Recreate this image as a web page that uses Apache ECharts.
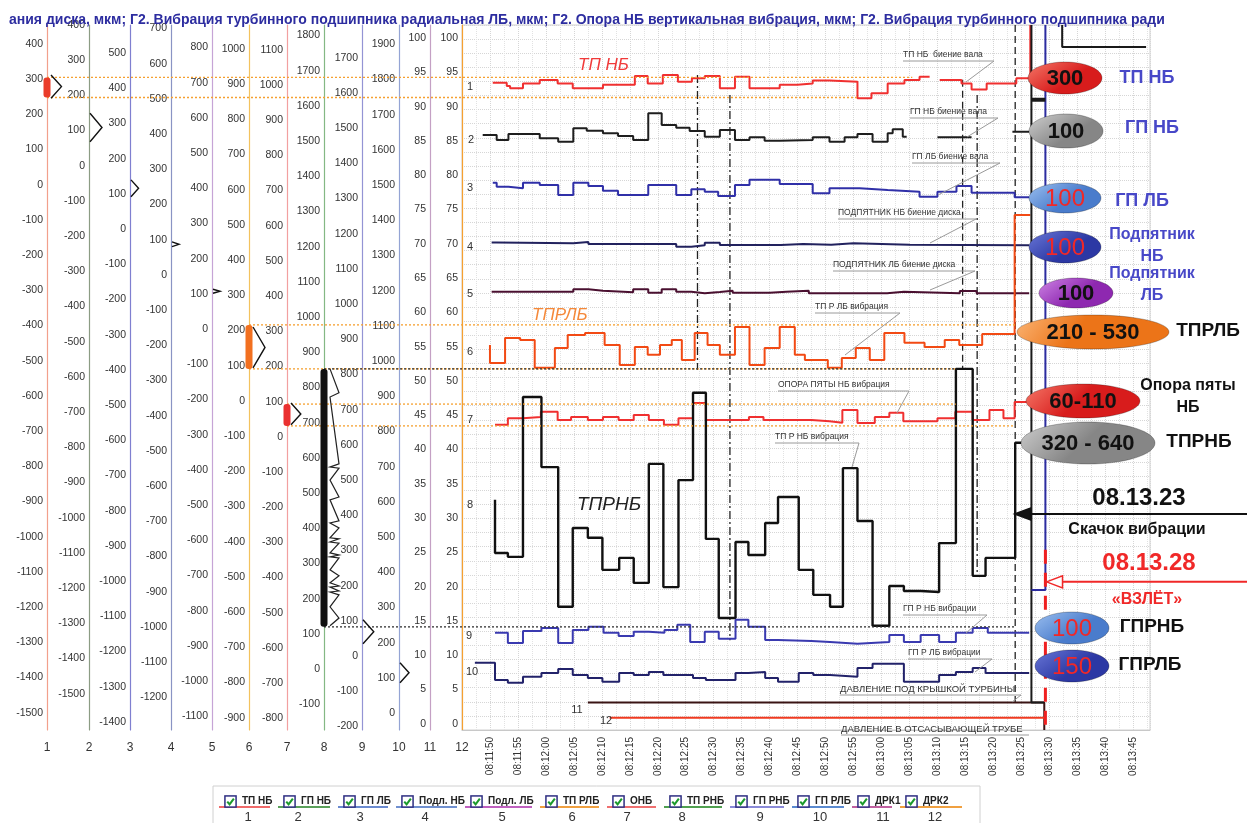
<!DOCTYPE html>
<html><head><meta charset="utf-8">
<script src="https://cdn.jsdelivr.net/npm/echarts@6/dist/echarts.min.js"></script>
<style>html,body{margin:0;padding:0;background:#fff}#c{width:1247px;height:823px}</style>
</head><body><div id="c"></div>
<script>
// ================= DATA =================
const TITLE = 'ания диска, мкм; Г2. Вибрация турбинного подшипника радиальная ЛБ, мкм; Г2. Опора НБ вертикальная вибрация, мкм; Г2. Вибрация турбинного подшипника ради';
const START_TIME = [8, 11, 50]; // time of x = 0 s
const seriesNames = ['ТП НБ','ГП НБ','ГП ЛБ','Подл. НБ','Подл. ЛБ','ТП РЛБ','ОНБ','ТП РНБ','ГП РНБ','ГП РЛБ','ДРК1','ДРК2'];
const axisNames = ['1','2','3','4','5','6','7','8','9','10','11','12'];
// axis scale ranges (value at top / bottom of plot)
const axisMax = [454, 400, 580, 710, 864, 1068, 1170, 1830, 1793, 1955, 101.9, 101.9];
const axisMin = [-1549, -1603, -1423, -1293, -1139, -935, -833, -173, -210, -48, -0.9, -0.9];
// tick label ranges
const tickTop = [400, 400, 500, 700, 800, 1000, 1100, 1800, 1700, 1900, 100, 100];
const tickBottom = [-1500, -1500, -1400, -1200, -1100, -900, -800, -100, -200, 0, 0, 0];
const tickStep = [100, 100, 100, 100, 100, 100, 100, 100, 100, 100, 5, 5];

// traces: [seconds after 08:11:50, value]; null = end of a drawn run
const trace1 = [[0.5,290],[3.0,281],[3.6,274],[5.9,288],[8.9,298],[12.1,288],[14.8,274],[20.2,284],[25.9,309],[28.2,288],[30.9,312],[33.6,293],[36.1,303],[38.4,309],[41.1,274],[43.8,307],[46.4,274],[51.8,284],[55.0,288],[57.7,296],[60.7,293],[65.7,246],[68.2,260],[71.1,288],[74.1,298],[76.8,307],[78.6,null],[80.4,298],[84.3,288],[86.1,271],[88.8,288],[94.1,303],[96.6,454],[96.7,null]];
const trace2 = [[-1.3,87.5],[1.2,73.3],[3.3,90.3],[8.9,78.1],[12.2,68.5],[14.9,106.5],[17.3,99.7],[20.2,92.3],[22.9,84.7],[25.6,73.3],[28.3,149.1],[30.7,115.9],[33.3,108.2],[35.7,98.9],[38.4,82.7],[41.1,101.7],[43.8,73.3],[46.4,80.9],[49.1,71.3],[51.8,73.3],[57.7,80.9],[60.7,68.5],[63.4,80.9],[65.7,90.3],[68.4,68.5],[71.1,92.3],[72.0,103.7],[73.8,82.7],[74.5,null],[80.0,80.9],[86.1,null],[93.4,96.9],[96.4,null]];
const trace3 = [[0.5,132],[1.2,120.6],[3.3,116.1],[5.9,132],[8.9,125.5],[12.2,97],[14.9,132],[17.6,122.6],[20.2,109.3],[22.9,97],[28.3,125.5],[33.3,97],[36.0,113.2],[38.4,106.4],[40.8,94.2],[43.8,125.5],[46.4,140],[51.8,128.4],[57.7,101.9],[60.7,116.1],[66.1,111.3],[71.1,106.4],[76.8,92.2],[80.0,106.4],[83.4,122.6],[86.1,103.6],[93.8,90.5],[96.4,null]];
const trace4 = [[0.3,92],[1.2,89.8],[14.9,93.6],[17.6,87.8],[33.3,80.2],[36.0,84.1],[38.4,91.5],[41.1,85],[52,88],[56,86],[61,90],[65,86],[75,85],[85,84],[96.4,null]];
const trace5 = [[0.3,106.3],[14.9,113.1],[17.6,109.2],[20.2,104.6],[25.6,113.1],[28.3,103.5],[30.7,113.1],[33.3,106.3],[36.0,101.8],[38.4,105.5],[41.1,109.2],[43.4,103.5],[50,106.3],[53,109],[57,102],[71,106],[74,102],[84,108],[87,102],[96.4,null]];
const trace6 = [[0,159],[0,108],[2.7,179],[5.4,173],[8.0,94],[11.6,150],[13.9,187],[17.0,193],[20.5,159],[23.2,102],[25.9,153],[28.2,131],[30.4,159],[32.5,173],[34.3,116],[36.6,193],[38.9,159],[41.1,131],[43.8,210],[46.4,102],[49.1,150],[51.8,210],[54.5,131],[56.3,116],[60.4,94],[62.9,122],[65.4,150],[67.9,116],[70.5,193],[74.1,165],[77.7,153],[81.3,173],[83.9,159],[88.0,190],[93.8,528],[96.6,null]];
const trace7 = [[0.9,34],[3.2,53],[5.9,56],[9.1,71],[12.1,48],[14.5,56],[17.5,48],[20.2,56],[23.0,48],[25.7,62],[28.4,48],[31.1,34],[33.7,53],[36.3,96],[38.6,48],[46.3,56],[48.9,48],[57.5,44],[60.7,40],[63.0,76],[65.7,39],[68.8,56],[71.4,68],[73.9,44],[80.0,53],[83.2,71],[86.3,48],[89.3,76],[91.8,53],[93.8,99],[96.6,null]];
const trace8 = [[0.9,481],[0.9,330],[3.2,319],[5.9,773],[9.2,574],[12.2,177],[14.8,401],[17.5,373],[20.1,282],[23.1,316],[25.7,245],[28.4,583],[31.0,233],[33.7,537],[36.3,785],[38.6,370],[40.9,145],[43.9,361],[46.2,324],[49.2,415],[51.5,489],[55.2,282],[57.8,211],[60.8,177],[63.1,571],[65.7,421],[68.4,123],[71.4,236],[74.0,222],[77.0,219],[80.3,358],[83.3,853],[86.3,265],[88.6,316],[93.9,643],[96.2,null]];
const trace9 = [[0.9,66],[3.2,37],[5.9,71],[9.2,80],[12.2,37],[14.8,74],[17.6,83],[20.3,66],[23.0,57],[25.7,69],[28.4,66],[31.2,74],[33.5,89],[35.8,40],[38.4,69],[40.9,49],[43.9,103],[46.2,83],[49.2,46],[51.5,43],[57.5,40],[60.8,35],[65.7,40],[71.4,60],[74.0,40],[77.0,60],[80.3,40],[83.3,66],[86.3,80],[89.0,66],[96.4,null]];
const trace10 = [[-2.7,143],[0.9,94],[3.2,86],[5.9,103],[9.2,114],[12.2,125],[14.8,108],[17.5,100],[20.1,89],[23.1,114],[25.7,108],[28.4,117],[31.0,108],[36.3,100],[38.6,94],[43.9,114],[46.2,117],[49.2,100],[51.5,89],[55.2,114],[57.8,108],[60.8,103],[65.7,128],[68.4,140],[74.0,89],[80.3,108],[83.3,117],[86.3,128],[88.6,114],[96.4,null]];
const trace11 = [[17.5,3.1],[99.1,-0.9],[99.2,null]];
const trace12 = [[21.4,0.9],[99.1,null]];
const traces = [trace1,trace2,trace3,trace4,trace5,trace6,trace7,trace8,trace9,trace10,trace11,trace12];

// vertical cursor lines (time, top value, bottom value on axis 12)
const cursorTimes = [37.1, 42.9, 84.5, 87.1, 93.9];
const cursorTop = [94.6, 91.7, 93.9, 91.7, 101.9];
const cursorBottom = [51.6, 12.2, 51.6, 21.7, 3.2];
// off-scale traces after 08:13:27 (axis 12 units)
const offBlack = [[96.8,101.9],[96.8,3.1],[99.1,3.1]];
const offBlue = [[99.3,101.9],[99.3,19.5],[96.8,19.5]];
const offTop = [[102.3,101.9],[102.3,98.7],[117.3,98.7]];
const offDouble = [[96.8,91.0],[99.3,91.0]];
const takeoffDash = [[99.3,25.4],[99.3,-0.9]];

// threshold lines: axis index, value, end time
const thrAxis = [0, 0, 5, 5, 6, 6, 7, 7];
const thrValue = [305, 248, 216, 91, 93, 31, 853, 120];
const thrEnd = [75.5, 65.7, 93.9, 83.3, 83.3, 93.9, 83.3, 93.9];
// bands on axes
const bandAxis = [0, 5, 6, 7];
const bandHi = [305, 216, 93, 853];
const bandLo = [248, 91, 31, 120];

// events
const eventLabels = ['08.13.23', '08.13.28'];
const eventSub = ['Скачок вибрации', '«ВЗЛЁТ»'];
const eventTime = [93.8, 99.5];
const eventLevel = [30.6, 20.7]; // axis 12 units

const badgeText = ['300','100','100','100','100','210 - 530','60-110','320 - 640','100','150'];
const badgeName = [['ТП НБ'],['ГП НБ'],['ГП ЛБ'],['Подпятник','НБ'],['Подпятник','ЛБ'],['ТПРЛБ'],['Опора пяты','НБ'],['ТПРНБ'],['ГПРНБ'],['ГПРЛБ']];

const noteTexts = ['ТП НБ  биение вала','ГП НБ биение вала','ГП ЛБ биение вала','ПОДПЯТНИК НБ биение диска','ПОДПЯТНИК ЛБ биение диска','ТП Р ЛБ вибрация','ОПОРА ПЯТЫ НБ вибрация','ТП Р НБ вибрация','ГП Р НБ вибрации','ГП Р ЛБ вибрации','ДАВЛЕНИЕ ПОД КРЫШКОЙ ТУРБИНЫ','ДАВЛЕНИЕ В ОТСАСЫВАЮЩЕЙ ТРУБЕ'];

// ================= LAYOUT / STYLE =================
const GRID = {left: 462, right: 97, top: 25, bottom: 93};
const axisOffsets = [415, 373, 332, 291, 250, 213, 175, 138, 100, 63, 32, 0];
const axisColors = ['#f2a08c','#8c9c84','#7f7fd0','#8a94c4','#c6a4d6','#f3c25e','#f2a0a0','#84b884','#9494d4','#94a4d4','#c4a0c4','#f5a030'];
const seriesColors = ['#f03030','#1e1e1e','#3030a8','#22225e','#4a1030','#f24a14','#f03030','#111111','#3a3ab0','#22226a','#3a1414','#f03a20'];
const legendX = [219, 278, 338, 396, 465, 540, 607, 664, 730, 792, 852, 900];
const legendLine = ['#f06a6a','#5aa05a','#6a8ad0','#7090d0','#c060c0','#f0a040','#f07070','#50a050','#8a8ad8','#5a8ad0','#c060a0','#f0a040'];
const legendNumX = [248, 298, 360, 425, 502, 572, 627, 682, 760, 820, 883, 935];
const FONT = '"Liberation Sans", Arial, sans-serif';

function ticks(top, bottom, step) { const a = []; for (let v = top; v >= bottom - 1e-9; v -= step) a.push(Math.round(v * 100) / 100); return a; }
function stepData(pts) {
  const out = []; let prev = null;
  for (const [t, v] of pts) {
    if (v === null) { if (prev !== null) { out.push([t, prev]); out.push([t, '-']); } prev = null; }
    else { out.push([t, v]); prev = v; }
  }
  return out;
}
function fmtTime(t) {
  let s = START_TIME[0] * 3600 + START_TIME[1] * 60 + START_TIME[2] + Math.round(t);
  const h = Math.floor(s / 3600), m = Math.floor((s % 3600) / 60), ss = s % 60;
  const p = n => String(n).padStart(2, '0');
  return p(h) + ':' + p(m) + ':' + p(ss);
}

const CHECK_SVG = "<svg xmlns='http://www.w3.org/2000/svg' width='14' height='14'><rect x='1' y='1' width='12' height='12' fill='white' stroke='#2c2c80' stroke-width='1.6'/><path d='M3.5 7.2 L6 10 L10.6 3.8' stroke='#1c9a2c' stroke-width='2.2' fill='none'/></svg>";
const CHECK_ICON = 'image://data:image/svg+xml;charset=utf-8,' + encodeURIComponent(CHECK_SVG);

const yAxes = axisNames.map((n, k) => ({
  type: 'value', gridIndex: 0, position: 'left', offset: axisOffsets[k],
  min: axisMin[k], max: axisMax[k],
  name: n, nameLocation: 'start', nameGap: 12,
  nameTextStyle: {fontSize: 12, color: '#333', fontFamily: FONT},
  axisLine: {show: true, onZero: false, lineStyle: {color: axisColors[k], width: 1.2}},
  axisTick: {show: false},
  splitLine: {show: false},
  axisLabel: {customValues: ticks(tickTop[k], tickBottom[k], tickStep[k]), margin: 4, fontSize: 10.5, color: '#333', fontFamily: FONT,
    formatter: v => String(Math.round(v))}
}));
// background dotted grid axis
yAxes.push({type: 'value', gridIndex: 0, min: 0, max: 50, interval: 1, axisLine: {show: false}, axisTick: {show: false}, axisLabel: {show: false},
  splitLine: {show: true, lineStyle: {type: 'dotted', color: '#d6d6d6'}}});

const series = traces.map((d, i) => ({
  name: seriesNames[i], type: 'line', xAxisIndex: 0, yAxisIndex: i, step: 'end',
  data: stepData(d), showSymbol: false, symbol: 'none', silent: true, z: 3,
  lineStyle: {color: seriesColors[i], width: i === 7 ? 2.4 : 2}, itemStyle: {color: seriesColors[i]}
}));
cursorTimes.forEach((t, i) => series.push({
  type: 'line', xAxisIndex: 0, yAxisIndex: 11, data: [[t, cursorTop[i]], [t, cursorBottom[i]]], showSymbol: false, symbol: 'none', silent: true, z: 2,
  lineStyle: {color: '#222', width: 1.3, type: (i === 2 || i === 4) ? [7, 4] : [8, 3, 2, 3]}
}));
[[offBlack, '#1a1a1a', 2, 'solid'], [offBlue, '#2c2ca0', 2, 'solid'], [offTop, '#1a1a1a', 2, 'solid'], [offDouble, '#1a1a1a', 4, 'solid'], [takeoffDash, '#f02020', 3, [14, 9]]].forEach(([d, c, w, ty]) =>
  series.push({type: 'line', xAxisIndex: 0, yAxisIndex: 11, data: d, showSymbol: false, symbol: 'none', silent: true, z: 4, clip: false, lineStyle: {color: c, width: w, type: ty}}));

const option = {
  animation: false,
  backgroundColor: '#fff',
  textStyle: {fontFamily: FONT},
  title: {text: TITLE, left: 4, top: 8, textStyle: {fontSize: 14, fontWeight: 'bold', color: '#2d2da0', fontFamily: FONT}},
  grid: {left: GRID.left, right: GRID.right, top: GRID.top, bottom: GRID.bottom, show: true, borderColor: '#d0d0d0', borderWidth: 1},
  xAxis: {type: 'value', min: -5, max: 118, interval: 5,
    axisLine: {show: true, onZero: false, lineStyle: {color: '#c8c8c8'}}, axisTick: {show: false},
    axisLabel: {rotate: 90, fontSize: 10, color: '#333', margin: 7, fontFamily: FONT,
      formatter: v => (v < 0 || Math.abs(v % 5) > 0.01 || v > 115) ? '' : fmtTime(v)},
    splitLine: {show: true, lineStyle: {type: 'dotted', color: '#d6d6d6'}},
    minorTick: {show: false, splitNumber: 2},
    minorSplitLine: {show: true, lineStyle: {type: 'dotted', color: '#e2e2e2'}}},
  yAxis: yAxes,
  legend: seriesNames.map((n, i) => ({show: true, left: legendX[i], top: 790, data: [{name: n, icon: CHECK_ICON}], itemWidth: 13, itemHeight: 13, selectedMode: false,
    textStyle: {fontSize: 10, fontWeight: 'bold', color: '#222', fontFamily: FONT}})),
  series: series
};

const chart = echarts.init(document.getElementById('c'));
chart.setOption(option);

// ================= ANNOTATIONS (positioned through the chart's scales) =================
function txt(text, x, y, font, fill, align, valign, z) {
  return {type: 'text', silent: true, z: z || 20, x: x, y: y, style: {text: text, font: font, fill: fill, align: align || 'left', textAlign: align || 'left', verticalAlign: valign || 'middle', textVerticalAlign: valign || 'middle'}};
}
function buildGraphics() {
  const G = [];
  const axisX = k => GRID.left - axisOffsets[k];
  const yOf = (k, v) => chart.convertToPixel({yAxisIndex: k}, v);
  const xOf = t => chart.convertToPixel({xAxisIndex: 0}, t);
  // threshold dotted lines
  thrAxis.forEach((k, i) => {
    const y = yOf(k, thrValue[i]);
    G.push({type: 'line', silent: true, z: 5, shape: {x1: axisX(k), y1: y, x2: xOf(thrEnd[i]), y2: y},
      style: {stroke: k === 7 ? '#333' : '#f5a030', lineWidth: 1.3, lineDash: [2, 2]}});
  });
  // coloured bands on axes
  const bandColors = ['#ea3c2a', '#f27020', '#ea3030', '#111'];
  bandAxis.forEach((k, i) => {
    const y1 = yOf(k, bandHi[i]), y2 = yOf(k, bandLo[i]);
    G.push({type: 'rect', silent: true, z: 6, shape: {x: axisX(k) - 3.5, y: y1, width: 7, height: y2 - y1, r: 3}, style: {fill: bandColors[i]}});
  });
  // chevrons showing each trace's range on its axis
  for (let k = 0; k < 10; k++) {
    const vals = traces[k].filter(p => p[1] !== null && p[0] < 93).map(p => p[1]);
    const yT = yOf(k, Math.max.apply(null, vals)), yB = yOf(k, Math.min.apply(null, vals));
    const x0 = axisX(k) + (bandAxis.indexOf(k) >= 0 ? 4 : 1);
    if (k === 7) {
      const sorted = Array.from(new Set(vals)).sort((a, b) => b - a);
      const pts = sorted.map((v, i) => [x0 + 2 + (i % 2 ? 9 : 0), yOf(k, v)]);
      G.push({type: 'polyline', silent: true, z: 7, shape: {points: pts}, style: {stroke: '#222', lineWidth: 1.2, fill: null}});
    } else {
      const w = Math.min(12, Math.max(7, (yB - yT) * 0.45));
      G.push({type: 'polyline', silent: true, z: 7, shape: {points: [[x0, yT], [x0 + w, (yT + yB) / 2], [x0, yB]]}, style: {stroke: '#111', lineWidth: 1.4, fill: null}});
    }
  }
  // trace numbers in plot
  const numPos = [[470,87],[471,140],[470,188],[470,247],[470,294],[470,352],[470,420],[470,505],[469,636],[472,672],[577,710],[606,721]];
  numPos.forEach((p, i) => G.push(txt(String(i + 1), p[0], p[1], '11px ' + FONT, '#333', 'center')));
  // big italic labels
  G.push(txt('ТП НБ', 578, 65, 'italic 17px ' + FONT, '#f03a3a'));
  G.push(txt('ТПРЛБ', 532, 315, 'italic 17px ' + FONT, '#f5893a'));
  G.push(txt('ТПРНБ', 577, 505, 'italic 19px ' + FONT, '#222'));
  // small notes with leader lines
  const notePos = [[903,55,994,966,82],[910,112,998,967,137],[912,157,1000,938,195],[838,213,976,930,243],[833,265,975,930,290],[815,307,900,845,355],[778,385,909,897,413],[775,437,859,852,467],[903,609,987,966,633],[908,653,992,975,672],[840,689,1021,1012,702],[841,729,1029,null,null]];
  noteTexts.forEach((t, i) => {
    const p = notePos[i];
    const big = i >= 10;
    G.push(txt(t, p[0], p[1], (big ? '9.5px ' : '8.5px ') + FONT, '#333'));
    G.push({type: 'line', silent: true, z: 19, shape: {x1: p[0], y1: p[1] + 6, x2: p[2], y2: p[1] + 6}, style: {stroke: '#9a9a9a', lineWidth: 1}});
    if (p[3] !== null) G.push({type: 'line', silent: true, z: 19, shape: {x1: p[2], y1: p[1] + 6, x2: p[3], y2: p[4]}, style: {stroke: '#9a9a9a', lineWidth: 1}});
  });
  // badges (ellipses)
  const bPos = [[1065,78,37,16],[1066,131,37,17],[1065,198,36,15],[1065,247,36,16],[1076,293,37,15],[1093,332,76,17],[1083,401,57,17],[1088,443,67,21],[1072,628,37,16],[1072,666,37,16]];
  const bFill = [['#f57a6a','#d81c1c'],['#cfcfcf','#868686'],['#9cc0f0','#4a7ccc'],['#6a78d8','#2c38a4'],['#cf86e6','#8e28b0'],['#fbb676','#ec7418'],['#f57a6a','#d81c1c'],['#cfcfcf','#868686'],['#9cc0f0','#4a7ccc'],['#6a78d8','#2c38a4']];
  const bTextColor = ['#111','#111','#f02828','#f02828','#111','#111','#111','#111','#f02828','#f02828'];
  const nPos = [[1147,78],[1152,128],[1142,201],[1152,246],[1152,285],[1208,331],[1188,397],[1199,442],[1152,627],[1150,665]];
  const nColor = ['#4848c8','#4848c8','#4848c8','#4848c8','#4848c8','#111','#111','#111','#111','#111'];
  badgeText.forEach((t, i) => {
    const p = bPos[i];
    G.push({type: 'ellipse', silent: true, z: 21, shape: {cx: p[0], cy: p[1], rx: p[2], ry: p[3]},
      style: {fill: {type: 'linear', x: 0, y: 0, x2: 0.3, y2: 1, colorStops: [{offset: 0, color: bFill[i][0]}, {offset: 1, color: bFill[i][1]}]}, stroke: 'rgba(0,0,0,0.25)', lineWidth: 1}});
    const red = bTextColor[i] !== '#111';
    G.push(txt(t, p[0], p[1] + 1, (red ? '24px ' : 'bold 22px ') + FONT, bTextColor[i], 'center', 'middle', 22));
    const lines = badgeName[i];
    const two = lines.length > 1;
    lines.forEach((ln, j) => G.push(txt(ln, nPos[i][0], nPos[i][1] + (two ? (j === 0 ? -11 : 11) : 0), 'bold ' + (two ? '16px ' : (i === 0 || i === 1 || i === 2 ? '18px ' : '19px ')) + FONT, nColor[i], 'center', 'middle', 22)));
  });
  // events with arrows
  const evColor = ['#111', '#f02828'];
  const evTextY = [498, 563];
  const evSubY = [530, 600];
  eventTime.forEach((t, i) => {
    const xt = xOf(t), y = chart.convertToPixel({yAxisIndex: 11}, eventLevel[i]);
    G.push({type: 'line', silent: true, z: 22, shape: {x1: xt + 12, y1: y, x2: 1247, y2: y}, style: {stroke: evColor[i], lineWidth: 2}});
    G.push({type: 'polygon', silent: true, z: 22, shape: {points: [[xt, y], [xt + 16, y - 6], [xt + 16, y + 6]]}, style: {fill: i === 0 ? '#111' : '#fff', stroke: evColor[i], lineWidth: 1.5}});
    G.push(txt(eventLabels[i], i === 0 ? 1139 : 1149, evTextY[i], 'bold 24px ' + FONT, evColor[i], 'center', 'middle', 22));
    G.push(txt(eventSub[i], i === 0 ? 1137 : 1147, evSubY[i], 'bold 16px ' + FONT, evColor[i], 'center', 'middle', 22));
  });
  // legend frame, underlines, numbers
  G.push({type: 'rect', silent: true, z: 1, shape: {x: 213, y: 786, width: 767, height: 40}, style: {fill: 'none', stroke: '#d0d0d0', lineWidth: 1}});
  legendX.forEach((x, i) => {
    const x2 = i < legendX.length - 1 ? legendX[i + 1] - 8 : 962;
    G.push({type: 'line', silent: true, z: 2, shape: {x1: x, y1: 807, x2: x2, y2: 807}, style: {stroke: legendLine[i], lineWidth: 2}});
    G.push(txt(String(i + 1), legendNumX[i], 817, '13px ' + FONT, '#333', 'center'));
  });
  chart.setOption({graphic: {elements: G}});
}
buildGraphics();
</script>
</body></html>
